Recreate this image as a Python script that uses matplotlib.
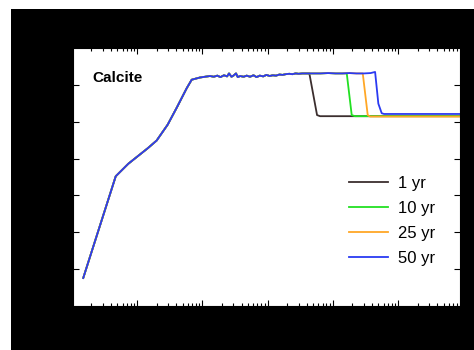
import matplotlib
matplotlib.use("Agg")
import matplotlib.pyplot as plt
from matplotlib.patches import Rectangle
import numpy as np

plt.rcParams['font.family'] = ['Liberation Sans', 'DejaVu Sans']

# shared rise + plateau (all runs follow this until breakthrough)
base_x = [1.50, 4.72, 7.36, 14.6, 20.0, 29.5, 40.6, 57.8, 68.9, 92.5, 131.5,
          150, 170, 190, 215, 240, 257, 280, 300, 329, 350, 380, 430, 480, 540,
          610, 680, 760, 860, 960, 1080, 1200, 1350, 1520, 1700, 1900, 2150,
          2400, 2700, 3000, 3400, 3800, 4300, 5000, 6500, 8500, 11000, 14000,
          18000, 23000, 30000, 38000, 44500]
base_y = [0.76, 3.52, 3.86, 4.28, 4.49, 4.92, 5.38, 5.91, 6.14, 6.20, 6.24,
          6.22, 6.25, 6.21, 6.26, 6.23, 6.31, 6.22, 6.25, 6.31, 6.21, 6.24, 6.22,
          6.25, 6.22, 6.26, 6.21, 6.25, 6.23, 6.27, 6.24, 6.26, 6.25, 6.28, 6.27,
          6.29, 6.30, 6.29, 6.31, 6.30, 6.31, 6.31, 6.31, 6.31, 6.31, 6.32, 6.31,
          6.31, 6.32, 6.31, 6.31, 6.32, 6.35]

labels = ['1 yr', '10 yr', '25 yr', '50 yr']
colors = ['#3b2e2e', '#22e022', '#ffa726', '#2a3af2']
# breakthrough front for each run: x and y after the base plateau
drop_x = [[4375, 5740, 6380, 1e6],
          [16370, 19500, 21900, 1e6],
          [28800, 34300, 37200, 1e6],
          [49900, 56200, 61000, 1e6]]
drop_y = [[6.31, 5.18, 5.15, 5.15],
          [6.31, 5.18, 5.15, 5.15],
          [6.31, 5.18, 5.14, 5.14],
          [5.49, 5.23, 5.21, 5.21]]

fig = plt.figure(figsize=(4.74, 3.5), dpi=100, facecolor='white')
bg = Rectangle((11 / 474, 0), 1, (350 - 9) / 350, transform=fig.transFigure,
               facecolor='black', edgecolor='none', zorder=-10)
fig.add_artist(bg)
ax = fig.add_axes([73 / 474, 44 / 350, 387 / 474, 258 / 350])
ax.set_facecolor('white')
ax.set_zorder(5)

bx = np.array(base_x)
by = np.array(base_y)
for lab, col, dx, dy in zip(labels, colors, drop_x, drop_y):
    keep = bx < dx[0]
    xs = np.concatenate([bx[keep], dx])
    ys = np.concatenate([by[keep], dy])
    ax.plot(xs, ys, color=col, lw=1.3, label=lab)

ax.set_xscale('log')
ax.set_xlim(1.045, 8.9e5)
ax.set_ylim(0, 7)
ax.set_yticks([1, 2, 3, 4, 5, 6])
ax.tick_params(which='both', direction='in', top=True, right=True,
               colors='black', labelcolor='black')
ax.tick_params(which='major', length=4.5, width=0.8)
ax.tick_params(which='minor', length=2.3, width=0.8)
for s in ax.spines.values():
    s.set_linewidth(0.8)

ax.text(0.05, 0.885, 'Calcite', transform=ax.transAxes, fontsize=11,
        fontweight='bold', va='center', ha='left')

ax.legend(loc='center left', bbox_to_anchor=(0.675, 0.329), frameon=False,
          fontsize=12, handlelength=2.35, handletextpad=0.6, labelspacing=0.6)

fig.savefig('out.png', dpi=100, facecolor=fig.get_facecolor())
